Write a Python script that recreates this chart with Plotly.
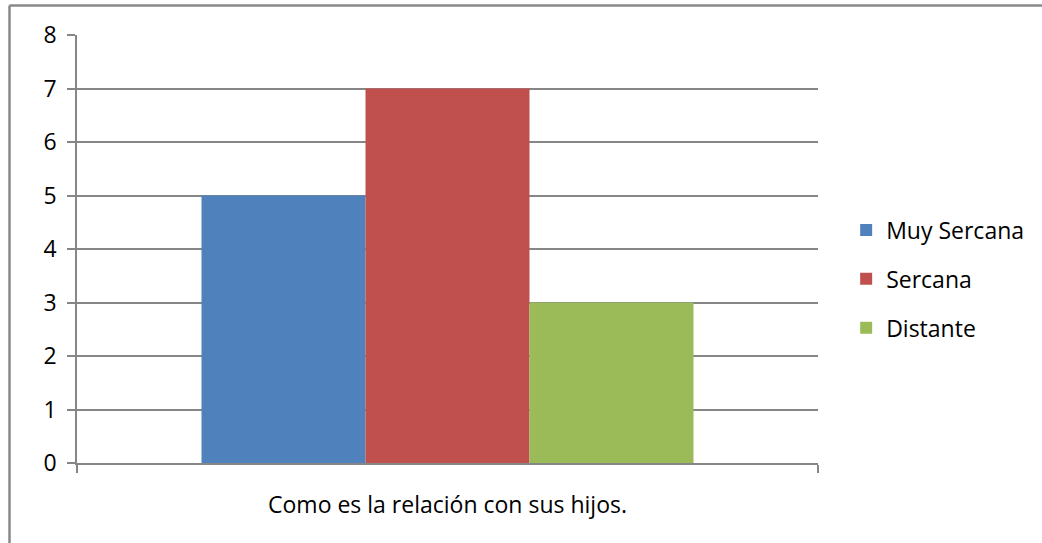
import plotly.graph_objects as go

category = ["Como es la relación con sus hijos."]
series_names = ["Muy Sercana", "Sercana", "Distante"]
series_values = [[5], [7], [3]]
series_colors = ["#4F81BD", "#C0504D", "#9BBB59"]
y_ticks = [0, 1, 2, 3, 4, 5, 6, 7, 8]

FONT = "Open Sans"
GRAY = "#868686"

fig = go.Figure()
for i, (name, vals, col) in enumerate(zip(series_names, series_values, series_colors)):
    fig.add_trace(go.Bar(
        x=category, y=vals, name=name, marker=dict(color=col, line=dict(width=0)),
        legendgroup=name,
    ))

L, R, T, B = 77, 818, 35, 463
W, H = 1042, 543

fig.update_layout(
    width=W, height=H,
    margin=dict(l=L, r=W - R, t=T, b=H - B, autoexpand=False),
    paper_bgcolor="white", plot_bgcolor="white",
    barmode="group", bargap=0.336, bargroupgap=0,
    font=dict(family=FONT, size=23, color="black"),
    showlegend=True,
    legend=dict(x=1.038, xanchor="left", y=0.43, yanchor="middle",
                font=dict(family=FONT, size=23), tracegroupgap=16,
                bgcolor="rgba(0,0,0,0)", itemwidth=30),
)
fig.update_xaxes(
    type="category", showgrid=False, showline=True, linecolor=GRAY, linewidth=1.5,
    ticks="outside", tickson="boundaries", ticklen=8, tickcolor=GRAY, tickwidth=1.5,
    ticklabelstandoff=21, fixedrange=True,
)
fig.update_yaxes(
    range=[0, 8], tickvals=y_ticks, showgrid=True, gridcolor=GRAY, gridwidth=1.5,
    showline=True, linecolor=GRAY, linewidth=1.5, zeroline=False,
    ticks="outside", ticklen=8, tickcolor=GRAY, tickwidth=1.5,
    ticklabelstandoff=6, fixedrange=True,
)

# outer chart border (only left and top edges visible in the reference)
pw, ph = R - L, B - T
bx = (9.5 - L) / pw
by = (B - 5.5) / ph
fig.add_shape(type="line", xref="paper", yref="paper", x0=bx, x1=bx, y0=-1, y1=by,
              line=dict(color="#898989", width=2.5))
fig.add_shape(type="line", xref="paper", yref="paper", x0=bx, x1=2, y0=by, y1=by,
              line=dict(color="#898989", width=2.5))

fig.write_html(
    "out.html",
    config={"displayModeBar": False},
    post_script="document.body.style.margin='0';document.body.style.overflow='hidden';",
)
